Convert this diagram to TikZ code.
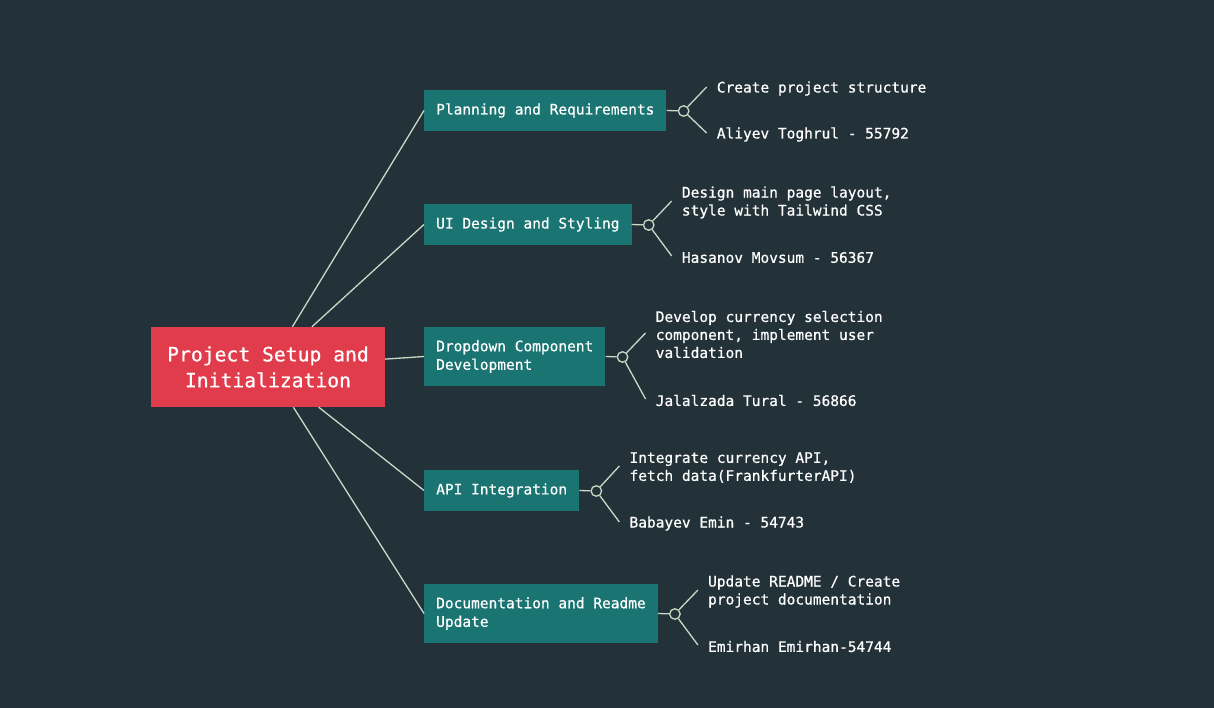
\documentclass[tikz,border=0pt]{standalone}
\usepackage{fontspec}
\newfontfamily\monofam[FakeBold=0.6]{DejaVu Sans Mono}
\usetikzlibrary{calc}
\definecolor{bgc}{HTML}{233238}
\definecolor{rootc}{HTML}{E03C4B}
\definecolor{boxc}{HTML}{1A7472}
\definecolor{linec}{HTML}{C9D9C6}
\tikzset{
  rootbox/.style={fill=rootc, text=white, align=center, minimum width=234pt, minimum height=80pt, inner sep=0pt,
    font=\monofam\fontsize{19.7}{26}\selectfont},
  branchbox/.style={fill=boxc, text=white, align=left, anchor=west, inner xsep=12pt, inner ysep=0pt,
    font=\monofam\fontsize{14.5}{18.5}\selectfont},
  leaftext/.style={text=white, align=left, anchor=west, inner sep=0pt,
    font=\monofam\fontsize{14.5}{18}\selectfont},
  edge/.style={draw=linec, line width=1.3pt},
  knot/.style={circle, draw=linec, fill=bgc, line width=1.3pt, minimum size=10.5pt, inner sep=0pt},
}
\begin{document}
\begin{tikzpicture}[x=1pt,y=-1pt]
\fill[bgc] (0,0) rectangle (1214,708);
\useasboundingbox (0,0) rectangle (1214,708);

\node[rootbox] (root) at (268,367) {Project Setup and\\Initialization};

\node[branchbox, minimum height=41pt] (b1) at (424,110.5) {Planning and Requirements};
\node[branchbox, minimum height=41pt] (b2) at (424,224.5) {UI Design and Styling};
\node[branchbox, minimum height=59pt] (b3) at (424,356.5) {Dropdown Component\\Development};
\node[branchbox, minimum height=41pt] (b4) at (424,490.5) {API Integration};
\node[branchbox, minimum height=59pt] (b5) at (424,613.5) {Documentation and Readme\\Update};

\foreach \i in {1,...,5} {
  \draw[edge] (root) -- (b\i.west);
}

% knots
\node[knot] (k1) at ($(b1.east)+(17,0.5)$) {};
\node[knot] (k2) at ($(b2.east)+(17,0.5)$) {};
\node[knot] (k3) at ($(b3.east)+(17,0.5)$) {};
\node[knot] (k4) at ($(b4.east)+(17,0.5)$) {};
\node[knot] (k5) at ($(b5.east)+(17,0.5)$) {};

\foreach \i in {1,...,5} {
  \draw[edge] (b\i.east) -- (k\i);
}

% leaf ends
\coordinate (u1) at ($(k1)+(23,-24)$);
\coordinate (d1) at ($(k1)+(23,22)$);
\coordinate (u2) at ($(k2)+(23,-24)$);
\coordinate (d2) at ($(k2)+(23,31)$);
\coordinate (u3) at ($(k3)+(23,-24)$);
\coordinate (d3) at ($(k3)+(23,42)$);
\coordinate (u4) at ($(k4)+(23,-25)$);
\coordinate (d4) at ($(k4)+(23,31)$);
\coordinate (u5) at ($(k5)+(23,-24)$);
\coordinate (d5) at ($(k5)+(23,31)$);

\foreach \i in {1,...,5} {
  \draw[edge] (k\i) -- (u\i);
  \draw[edge] (k\i) -- (d\i);
}

\node[leaftext] (t1a) at ($(u1)+(10,1.5)$) {Create project structure};
\node[leaftext] (t1b) at ($(d1)+(10,1.5)$) {Aliyev Toghrul - 55792};
\node[leaftext] (t2a) at ($(u2)+(10,1.5)$) {Design main page layout,\\style with Tailwind CSS};
\node[leaftext] (t2b) at ($(d2)+(10,1.5)$) {Hasanov Movsum - 56367};
\node[leaftext] (t3a) at ($(u3)+(10,1.5)$) {Develop currency selection\\component, implement user\\validation};
\node[leaftext] (t3b) at ($(d3)+(10,1.5)$) {Jalalzada Tural - 56866};
\node[leaftext] (t4a) at ($(u4)+(10,1.5)$) {Integrate currency API,\\fetch data(FrankfurterAPI)};
\node[leaftext] (t4b) at ($(d4)+(10,1.5)$) {Babayev Emin - 54743};
\node[leaftext] (t5a) at ($(u5)+(10,1.5)$) {Update README / Create\\project documentation};
\node[leaftext] (t5b) at ($(d5)+(10,1.5)$) {Emirhan Emirhan-54744};
\end{tikzpicture}
\end{document}
